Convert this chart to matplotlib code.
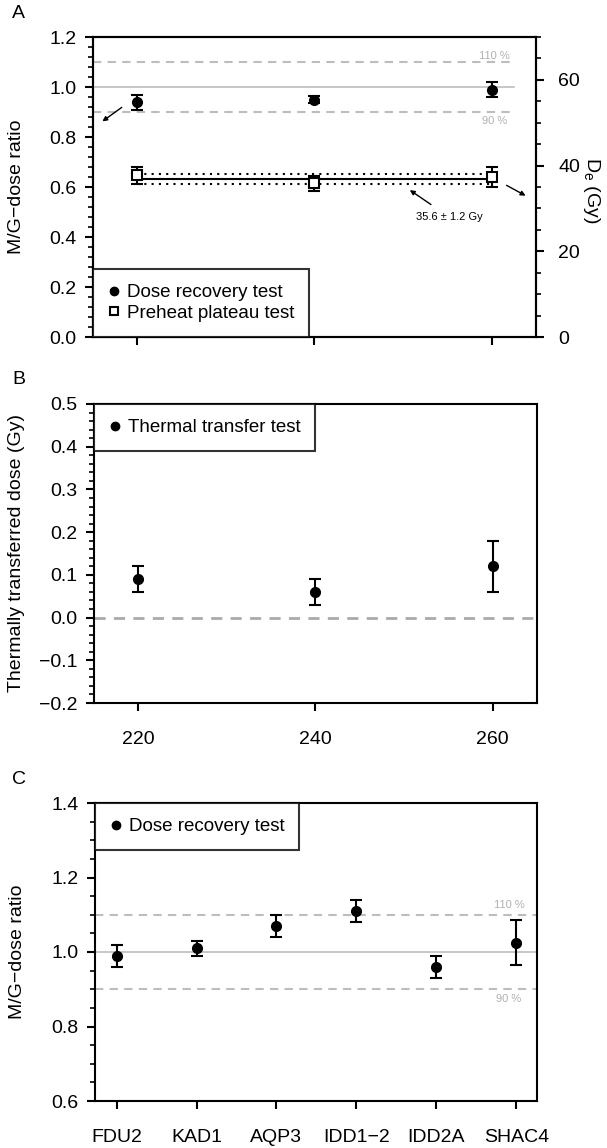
import matplotlib.pyplot as plt
from matplotlib.lines import Line2D
from matplotlib.ticker import MultipleLocator

plt.rcParams['font.family'] = ['Liberation Sans', 'DejaVu Sans']

# panel A
temps = [220, 240, 260]
dr_ratio = [0.94, 0.95, 0.99]
dr_err = [0.03, 0.015, 0.03]
ph_de = [37.7, 35.9, 37.3]
ph_err = [2.0, 1.75, 2.3]
ph_mean = 36.9
ph_sd = 1.1

# panel B
tt_dose = [0.09, 0.06, 0.12]
tt_err = [0.03, 0.03, 0.06]

# panel C
samples = ["FDU2", "KAD1", "AQP3", "IDD1\u22122", "IDD2A", "SHAC4"]
c_ratio = [0.99, 1.01, 1.07, 1.11, 0.96, 1.025]
c_err = [0.03, 0.02, 0.03, 0.03, 0.03, 0.06]

W, H = 607, 1148
fig = plt.figure(figsize=(W / 100, H / 100), dpi=100)


def box(l, r, t, b):
    return [l / W, 1 - b / H, (r - l) / W, (b - t) / H]


ref_grey = "#bdbdbd"
txt_grey = "#b0b0b0"
fs = 14


def style(ax):
    for s in ax.spines.values():
        s.set_linewidth(1.5)
    ax.tick_params(axis="both", which="major", direction="out", length=6, width=1.5,
                   labelsize=fs, pad=6)
    ax.tick_params(axis="both", which="minor", direction="out", length=3.5, width=1.2)
    ax.tick_params(axis="x", which="minor", bottom=False)


def legend(ax, handles, loc):
    leg = ax.legend(handles=handles, loc=loc, fontsize=13.5, frameon=True, fancybox=False,
                    borderaxespad=0, handletextpad=0.4, handlelength=0.6, borderpad=0.8,
                    labelspacing=0.2)
    leg.get_frame().set_edgecolor("black")
    leg.get_frame().set_linewidth(1.5)
    return leg


eb = dict(fmt="o", color="black", ms=7, elinewidth=1.5, capsize=4.5, capthick=1.5)
dot = dict(marker="o", color="black", ls="none", ms=6)

# ---------------- A
ax = fig.add_axes(box(93, 536, 37, 337))
ax2 = ax.twinx()
ax.set_zorder(ax2.get_zorder() + 1)
ax.patch.set_visible(False)

ax.plot([215, 262.5], [1.0, 1.0], color=ref_grey, lw=1.2, zorder=1)
ax.plot([215, 262.5], [1.1, 1.1], color=ref_grey, lw=1.5, ls=(0, (4, 3)), zorder=1)
ax.plot([215, 262.5], [0.9, 0.9], color=ref_grey, lw=1.5, ls=(0, (4, 3)), zorder=1)
ax.text(260.3, 1.124, "110 %", fontsize=8, color=txt_grey, ha="center", va="center")
ax.text(260.3, 0.862, "90 %", fontsize=8, color=txt_grey, ha="center", va="center")

ax.errorbar(temps, dr_ratio, yerr=dr_err, **eb)

ax2.plot([temps[0], temps[-1]], [ph_mean, ph_mean], color="black", lw=1.5)
ax2.plot([temps[0], temps[-1]], [ph_mean + ph_sd] * 2, color="black", lw=1.5, ls=(0, (1, 2.5)))
ax2.plot([temps[0], temps[-1]], [ph_mean - ph_sd] * 2, color="black", lw=1.5, ls=(0, (1, 2.5)))
ax2.errorbar(temps, ph_de, yerr=ph_err, fmt="s", color="black", mfc="white", mec="black",
             mew=1.5, ms=7, elinewidth=1.5, capsize=4.5, capthick=1.5)

ax.annotate("", xy=(215.8, 0.856), xytext=(218.5, 0.925),
            arrowprops=dict(arrowstyle="-|>", color="black", lw=1.0, mutation_scale=7))
ax.annotate("", xy=(264.1, 0.56), xytext=(261.4, 0.612), annotation_clip=False,
            arrowprops=dict(arrowstyle="-|>", color="black", lw=1.0, mutation_scale=7))
ax.annotate("35.6 \u00b1 1.2 Gy", xy=(250.5, 0.594), xytext=(255.2, 0.48), fontsize=8,
            ha="center", va="center",
            arrowprops=dict(arrowstyle="-|>", color="black", lw=1.0, mutation_scale=7, shrinkA=6))

ax.set_xlim(215, 265)
ax.set_ylim(0, 1.2)
ax2.set_ylim(0, 70)
ax.set_xticks(temps)
ax.set_xticklabels([])
ax.yaxis.set_major_locator(MultipleLocator(0.2))
ax.yaxis.set_minor_locator(MultipleLocator(0.04))
ax.yaxis.set_major_formatter(lambda v, p: f"{v:.1f}")
ax2.yaxis.set_major_locator(MultipleLocator(20))
ax2.yaxis.set_minor_locator(MultipleLocator(5))
style(ax)
style(ax2)
ax2.tick_params(axis="y", which="major", pad=10)
ax.set_ylabel("M/G\u2212dose ratio", fontsize=fs, va="center")
ax.yaxis.set_label_coords(-0.172, 0.5)
ax2.set_ylabel("D$_\\mathregular{e}$ (Gy)", fontsize=fs, rotation=270, va="center")
ax2.yaxis.set_label_coords(1.126, 0.49)
legend(ax, [Line2D([], [], label="Dose recovery test", **dot),
            Line2D([], [], marker="s", ls="none", ms=6, mfc="white", mec="black", mew=1.5,
                   label="Preheat plateau test")], "lower left")
fig.text(12 / W, 1 - 14 / H, "A", fontsize=fs, va="center")

# ---------------- B
bx = fig.add_axes(box(94, 537, 404, 703))
bx.plot([215, 265], [0, 0], color="#aaaaaa", lw=2, ls=(0, (4, 3)), zorder=1)
bx.errorbar(temps, tt_dose, yerr=tt_err, **eb)
bx.set_xlim(215, 265)
bx.set_ylim(-0.2, 0.5)
bx.set_xticks(temps)
bx.yaxis.set_major_locator(MultipleLocator(0.1))
bx.yaxis.set_minor_locator(MultipleLocator(0.02))
bx.yaxis.set_major_formatter(lambda v, p: f"{v:.1f}".replace("-", "\u2212"))
style(bx)
bx.tick_params(axis="x", which="major", pad=14)
bx.set_ylabel("Thermally transferred dose (Gy)", fontsize=fs, va="center")
bx.yaxis.set_label_coords(-0.174, 0.5)
legend(bx, [Line2D([], [], label="Thermal transfer test", **dot)], "upper left")
fig.text(12 / W, 1 - 380 / H, "B", fontsize=fs, va="center")

# ---------------- C
cx = fig.add_axes(box(95, 537, 803, 1101))
xs = list(range(len(samples)))
cx.axhline(1.0, color=ref_grey, lw=1.2, zorder=1)
cx.axhline(1.1, color=ref_grey, lw=1.5, ls=(0, (4, 3)), zorder=1)
cx.axhline(0.9, color=ref_grey, lw=1.5, ls=(0, (4, 3)), zorder=1)
cx.text(4.91, 1.126, "110 %", fontsize=8, color=txt_grey, ha="center", va="center")
cx.text(4.91, 0.874, "90 %", fontsize=8, color=txt_grey, ha="center", va="center")
cx.errorbar(xs, c_ratio, yerr=c_err, **eb)
cx.set_xlim(-0.27, 5.26)
cx.set_ylim(0.6, 1.4)
cx.set_xticks(xs)
cx.set_xticklabels(samples)
cx.yaxis.set_major_locator(MultipleLocator(0.2))
cx.yaxis.set_minor_locator(MultipleLocator(0.05))
cx.yaxis.set_major_formatter(lambda v, p: f"{v:.1f}")
style(cx)
cx.tick_params(axis="x", which="major", pad=14)
cx.set_ylabel("M/G\u2212dose ratio", fontsize=fs, va="center")
cx.yaxis.set_label_coords(-0.176, 0.5)
legend(cx, [Line2D([], [], label="Dose recovery test", **dot)], "upper left")
fig.text(12 / W, 1 - 780 / H, "C", fontsize=fs, va="center")

fig.savefig("out.png", dpi=100)
